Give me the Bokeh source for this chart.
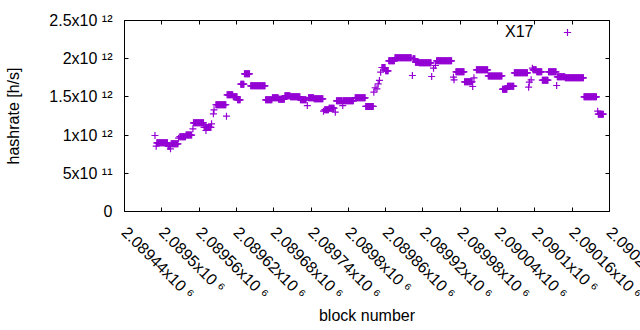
from bokeh.plotting import figure
from bokeh.models import (FixedTicker, LinearAxis, Range1d, Legend, LegendItem,
                          CustomJSTickFormatter)
from bokeh.embed import file_html
from bokeh.resources import INLINE
import math

# ---------------- data ----------------
# runs of blocks that share the same hashrate estimate (value in 1e12 h/s)
run_start = [2089492, 2089510, 2089515, 2089529, 2089539, 2089551, 2089568, 2089572,
             2089587, 2089605, 2089615, 2089622, 2089627, 2089633, 2089643, 2089667,
             2089678, 2089688, 2089698, 2089707, 2089723, 2089736, 2089745, 2089762,
             2089769, 2089781, 2089792, 2089811, 2089828, 2089854, 2089860, 2089865,
             2089875, 2089904, 2089908, 2089914, 2089942, 2089973, 2089987, 2090006,
             2090025, 2090048, 2090056, 2090067, 2090097, 2090103, 2090112, 2090122,
             2090136, 2090149, 2090179, 2090202]
run_end = [2089509, 2089513, 2089526, 2089538, 2089548, 2089567, 2089570, 2089579,
           2089603, 2089614, 2089621, 2089626, 2089632, 2089641, 2089666, 2089677,
           2089687, 2089697, 2089706, 2089722, 2089732, 2089744, 2089759, 2089768,
           2089777, 2089790, 2089808, 2089827, 2089840, 2089859, 2089864, 2089874,
           2089901, 2089907, 2089913, 2089933, 2089966, 2089986, 2089999, 2090024,
           2090047, 2090055, 2090066, 2090088, 2090102, 2090111, 2090121, 2090134,
           2090148, 2090178, 2090199, 2090210]
run_value = [0.899, 0.855, 0.886, 0.980, 1.000, 1.161, 1.100, 1.100,
             1.397, 1.527, 1.501, 1.462, 1.667, 1.802, 1.645, 1.462,
             1.488, 1.470, 1.514, 1.501, 1.462, 1.488, 1.475, 1.331,
             1.352, 1.449, 1.449, 1.488, 1.375, 1.885, 1.841, 1.972,
             2.012, 2.000, 1.955, 1.946, 1.972, 1.828, 1.697, 1.855,
             1.775, 1.601, 1.640, 1.815, 1.855, 1.828, 1.719, 1.828,
             1.763, 1.750, 1.501, 1.274]
# isolated blocks
single_block = [2089489, 2089491, 2089514, 2089527, 2089550, 2089571, 2089580, 2089583,
                2089584, 2089604, 2089734, 2089760, 2089779, 2089791, 2089841, 2089843,
                2089846, 2089848, 2089850, 2089852, 2089903, 2089934, 2089937, 2089940,
                2089969, 2089970, 2090000, 2090002, 2090090, 2090091, 2090094, 2090096,
                2090135, 2090201]
single_value = [0.995, 0.855, 0.820, 0.960, 1.082, 1.060, 1.148, 1.279,
                1.331, 1.248, 1.387, 1.313, 1.300, 1.387, 1.562, 1.620,
                1.606, 1.671, 1.715, 1.823, 1.780, 1.767, 1.876, 1.911,
                1.758, 1.724, 1.636, 1.750, 1.627, 1.693, 1.724, 1.876,
                1.649, 1.313]
series_name = "X17"
value_unit = 1e12

x_tick_values = [2089440, 2089500, 2089560, 2089620, 2089680, 2089740, 2089800,
                 2089860, 2089920, 2089980, 2090040, 2090100, 2090160, 2090220]
x_tick_labels = ["2.08944x10 ⁶", "2.0895x10 ⁶", "2.08956x10 ⁶", "2.08962x10 ⁶",
                 "2.08968x10 ⁶", "2.08974x10 ⁶", "2.0898x10 ⁶", "2.08986x10 ⁶",
                 "2.08992x10 ⁶", "2.08998x10 ⁶", "2.09004x10 ⁶", "2.0901x10 ⁶",
                 "2.09016x10 ⁶", "2.09022x10 ⁶"]
y_tick_values = [0, 5e11, 1e12, 1.5e12, 2e12, 2.5e12]
y_tick_labels = ["0", "5x10 ¹¹", "1x10 ¹²", "1.5x10 ¹²", "2x10 ¹²", "2.5x10 ¹²"]
x_title = "block number"
y_title = "hashrate [h/s]"

# ---------------- style ----------------
FONT = "Liberation Sans"
FS = "16px"
PURPLE = "#9400d3"

xs, ys = [], []
for s, e, v in zip(run_start, run_end, run_value):
    for b in range(s, e + 1):
        xs.append(b)
        ys.append(v * value_unit)
for b, v in zip(single_block, single_value):
    xs.append(b)
    ys.append(v * value_unit)

p = figure(width=640, height=330, output_backend="svg", toolbar_location=None,
           x_range=Range1d(x_tick_values[0], x_tick_values[-1]),
           y_range=Range1d(y_tick_values[0], y_tick_values[-1]),
           min_border_left=124, min_border_right=31, min_border_top=20,
           min_border_bottom=119, background_fill_color="white",
           border_fill_color="white")
p.outline_line_color = "black"
p.outline_line_width = 1
p.grid.visible = False

p.add_layout(LinearAxis(), "above")
p.add_layout(LinearAxis(), "right")


def style_axis(ax, ticks, labels=None):
    ax.ticker = FixedTicker(ticks=ticks)
    ax.major_tick_in = 4
    ax.major_tick_out = 0
    ax.minor_tick_line_color = None
    ax.axis_line_color = "black"
    ax.major_tick_line_color = "black"
    if labels is None:
        ax.formatter = CustomJSTickFormatter(code="return ''")
        ax.major_label_standoff = 0
        ax.major_label_text_font_size = "1px"
    else:
        ax.major_label_overrides = dict(zip(ticks, labels))
        ax.major_label_text_font = FONT
        ax.major_label_text_font_size = FS
        ax.major_label_text_color = "black"


bottom, left = p.below[0], p.left[0]
style_axis(bottom, x_tick_values, x_tick_labels)
style_axis(left, y_tick_values, y_tick_labels)
style_axis(p.above[0], x_tick_values)
style_axis(p.right[0], y_tick_values)

# an unlabelled guard tick on the right border keeps Bokeh from sliding the
# last real label back inside the canvas (gnuplot lets it run off the edge)
guard = x_tick_values[-1] - 0.5
bottom.ticker = FixedTicker(ticks=x_tick_values + [guard])
bottom.major_label_overrides = {**dict(zip(x_tick_values, x_tick_labels)), guard: ""}

bottom.major_label_orientation = -math.pi / 4
bottom.major_label_standoff = 18
left.major_label_standoff = 12

for ax, lab, st in ((bottom, x_title, -4), (left, y_title, 24)):
    ax.axis_label = lab
    ax.axis_label_standoff = st
    ax.axis_label_text_font = FONT
    ax.axis_label_text_font_size = FS
    ax.axis_label_text_font_style = "normal"
    ax.axis_label_text_color = "black"

r = p.scatter(xs, ys, marker="cross", size=7, line_color=PURPLE, line_width=1.2)

# key: title text first, then the sample (gnuplot order)
blank = p.scatter([], [], marker="cross", size=7, line_alpha=0, fill_alpha=0)
legend = Legend(items=[LegendItem(label=series_name, renderers=[blank]),
                       LegendItem(label=" ", renderers=[r])],
                orientation="horizontal", location=(358, 170), padding=0, spacing=25,
                margin=0, glyph_width=18, glyph_height=18, label_height=18,
                label_standoff=5, border_line_color=None, background_fill_alpha=0,
                label_text_font=FONT, label_text_font_size=FS,
                label_text_color="black")
p.add_layout(legend, "center")

open("out.html", "w").write(file_html(p, INLINE))
